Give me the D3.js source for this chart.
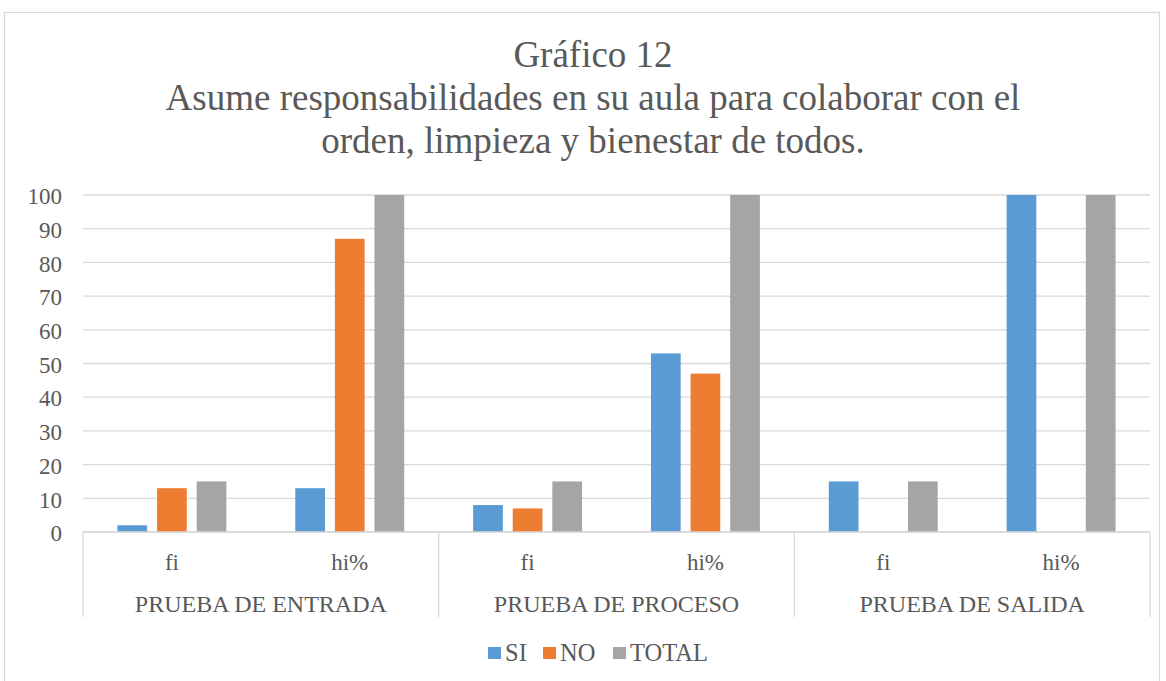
<!DOCTYPE html>
<meta charset="utf-8">
<style>
body { margin: 0; background: #fff; }
.grid line { stroke: #d9d9d9; stroke-width: 1.3px; }
</style>
<svg width="1166" height="681" font-family="Liberation Serif"></svg>
<script src="https://cdn.jsdelivr.net/npm/d3@7"></script>
<script>

var groups = ["PRUEBA DE ENTRADA", "PRUEBA DE PROCESO", "PRUEBA DE SALIDA"],
    subs = ["fi", "hi%"],
    series = ["SI", "NO", "TOTAL"],
    colors = ["#5b9bd5", "#ed7d31", "#a5a5a5"];

// values per group, per sub-category: [SI, NO, TOTAL]
var entrada = [[2, 13, 15], [13, 87, 100]],
    proceso = [[8, 7, 15], [53, 47, 100]],
    salida = [[15, 0, 15], [100, 0, 100]];

var yTicks = [0, 10, 20, 30, 40, 50, 60, 70, 80, 90, 100];

var titleLines = ["Gráfico 12",
    "Asume responsabilidades en su aula para colaborar con el",
    "orden, limpieza y bienestar de todos."];

var table = [entrada, proceso, salida];

var font = "Liberation Serif",
    ink = "#595959";

var svg = d3.select("svg"),
    margin = {top: 195, right: 16, bottom: 149, left: 83},
    width = +svg.attr("width") - margin.left - margin.right,
    height = +svg.attr("height") - margin.top - margin.bottom,
    g = svg.append("g").attr("transform", "translate(" + margin.left + "," + margin.top + ")");

// chart frame
svg.append("rect")
    .attr("x", 4.5).attr("y", 12.5)
    .attr("width", 1155).attr("height", 700)
    .attr("fill", "none")
    .attr("stroke", "#d9d9d9")
    .attr("stroke-width", 1.2);

svg.append("g").selectAll("text")
  .data(titleLines)
  .enter().append("text")
    .attr("x", 593)
    .attr("y", function(d, i) { return [67, 110, 153][i]; })
    .attr("text-anchor", "middle")
    .attr("font-family", font)
    .attr("fill", ink)
    .attr("font-size", 37)
    .text(function(d) { return d; });

var cats = [];
groups.forEach(function(gname, gi) {
  subs.forEach(function(s, si) {
    cats.push({group: gname, sub: s, key: gi + "-" + si, values: table[gi][si]});
  });
});

var x0 = d3.scaleBand().domain(groups).range([0, width]);
var x1 = d3.scaleBand().domain(cats.map(function(d) { return d.key; })).range([0, width]);
var xs = d3.scaleBand().domain(series).range([0, x1.bandwidth()]).paddingInner(0.25).paddingOuter(0.87);

var y = d3.scaleLinear().domain([0, 100]).range([height, 0]);

g.append("g")
    .attr("class", "grid")
  .selectAll("line")
  .data(yTicks)
  .enter().append("line")
    .attr("x1", 0).attr("x2", width)
    .attr("y1", function(d) { return y(d); })
    .attr("y2", function(d) { return y(d); });

var yAxis = g.append("g")
    .call(d3.axisLeft(y).tickValues(yTicks).tickSize(0).tickPadding(21))
    .attr("font-family", font)
    .attr("font-size", 23);
yAxis.select(".domain").remove();
yAxis.selectAll("text").attr("fill", ink).attr("dy", "0.38em");

var cat = g.append("g").selectAll("g")
  .data(cats)
  .enter().append("g")
    .attr("transform", function(d) { return "translate(" + x1(d.key) + ",0)"; });

cat.selectAll("rect")
  .data(function(d) { return d.values.map(function(v, i) { return {s: series[i], v: v, c: colors[i]}; }); })
  .enter().append("rect")
    .attr("x", function(d) { return xs(d.s); })
    .attr("width", xs.bandwidth())
    .attr("y", function(d) { return y(d.v); })
    .attr("height", function(d) { return height - y(d.v); })
    .attr("fill", function(d) { return d.c; });

// category axis (two levels)
var ax = g.append("g").attr("transform", "translate(0," + height + ")");

ax.append("line")
    .attr("x1", 0).attr("x2", width)
    .attr("stroke", "#d9d9d9").attr("stroke-width", 1.3);

ax.selectAll(".sep")
  .data(groups.map(function(d) { return x0(d); }).concat([width]))
  .enter().append("line")
    .attr("class", "sep")
    .attr("x1", function(d) { return d; }).attr("x2", function(d) { return d; })
    .attr("y1", 0).attr("y2", 85)
    .attr("stroke", "#d9d9d9").attr("stroke-width", 1.3);

ax.selectAll(".sub")
  .data(cats)
  .enter().append("text")
    .attr("class", "sub")
    .attr("x", function(d) { return x1(d.key) + x1.bandwidth() / 2; })
    .attr("y", 38)
    .attr("text-anchor", "middle")
    .attr("font-family", font)
    .attr("fill", ink)
    .attr("font-size", 23)
    .text(function(d) { return d.sub; });

ax.selectAll(".grp")
  .data(groups)
  .enter().append("text")
    .attr("class", "grp")
    .attr("x", function(d) { return x0(d) + x0.bandwidth() / 2; })
    .attr("y", 80)
    .attr("text-anchor", "middle")
    .attr("font-family", font)
    .attr("fill", ink)
    .attr("font-size", 24)
    .text(function(d) { return d; });

// legend
var legX = [488, 543, 613];
var leg = svg.append("g").selectAll("g")
  .data(series)
  .enter().append("g")
    .attr("transform", function(d, i) { return "translate(" + legX[i] + ",647)"; });

leg.append("rect")
    .attr("width", 13).attr("height", 12)
    .attr("fill", function(d, i) { return colors[i]; });

leg.append("text")
    .attr("x", 17).attr("y", 14)
    .attr("font-family", font)
    .attr("fill", ink)
    .attr("font-size", 24.5)
    .text(function(d) { return d; });

</script>
